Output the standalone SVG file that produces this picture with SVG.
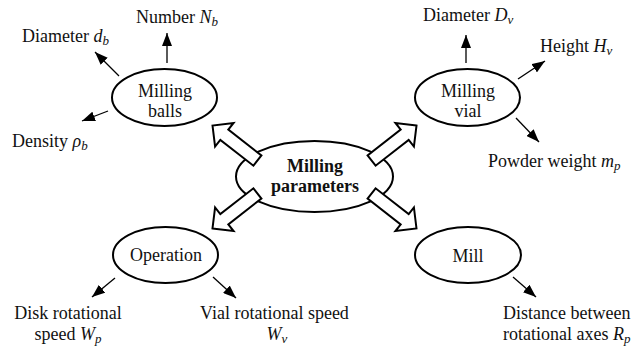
<svg xmlns="http://www.w3.org/2000/svg" width="633" height="350" viewBox="0 0 633 350">
<style>
text { font-family: 'Liberation Serif', 'Times New Roman', serif; font-size: 18px; fill: #111; }
.c { text-anchor: middle; }
.b { font-weight: bold; }
.i { font-style: italic; }
.s { font-style: italic; font-size: 13px; }
.node { fill: #fff; stroke: #000; stroke-width: 2; }
.thin { stroke: #000; stroke-width: 1.3; fill: none; marker-end: url(#ah); }
.block { fill: #fff; stroke: #000; stroke-width: 2; stroke-linejoin: miter; }
</style>
<defs>
<marker id="ah" viewBox="0 0 13 10" refX="13" refY="5" markerWidth="13" markerHeight="10" markerUnits="userSpaceOnUse" orient="auto">
<path d="M0,0 L13,5 L0,10 Z" fill="#000"/>
</marker>
<path id="blk" d="M0,0 L-15,-15 L-15,-6.5 L-57,-6.5 L-57,6.5 L-15,6.5 L-15,15 Z"/>
</defs>
<rect width="633" height="350" fill="#fff"/>

<g id="center">
<ellipse class="node" cx="314.5" cy="176.5" rx="78.5" ry="35.5"/>
<text class="c b" x="315" y="172">Milling</text>
<text class="c b" x="315" y="192">parameters</text>
</g>

<g id="connectors">
<use href="#blk" class="block" transform="translate(212.5,125.5) rotate(218)"/>
<use href="#blk" class="block" transform="translate(416.5,125.5) rotate(-38)"/>
<use href="#blk" class="block" transform="translate(212.5,228.5) rotate(142)"/>
<use href="#blk" class="block" transform="translate(416.5,228.5) rotate(38)"/>
<line class="thin" x1="167" y1="63" x2="167" y2="33"/>
<line class="thin" x1="119" y1="76" x2="95" y2="52"/>
<line class="thin" x1="108" y1="111" x2="82" y2="121"/>
<line class="thin" x1="466" y1="63" x2="466" y2="35"/>
<line class="thin" x1="518" y1="79" x2="545" y2="61"/>
<line class="thin" x1="516" y1="118" x2="539" y2="142"/>
<line class="thin" x1="115" y1="278" x2="92" y2="297"/>
<line class="thin" x1="213" y1="277" x2="236" y2="298"/>
<line class="thin" x1="513" y1="277" x2="536" y2="297"/>
</g>

<g id="balls">
<ellipse class="node" cx="164.5" cy="97.5" rx="52.5" ry="28.5"/>
<text class="c" x="165" y="97">Milling</text>
<text class="c" x="165" y="117">balls</text>
</g>

<g id="vial">
<ellipse class="node" cx="467.5" cy="97.5" rx="52.5" ry="28.5"/>
<text class="c" x="468" y="97">Milling</text>
<text class="c" x="468" y="117">vial</text>
</g>

<g id="operation">
<ellipse class="node" cx="165.5" cy="255" rx="52.5" ry="28"/>
<text class="c" x="166" y="261">Operation</text>
</g>

<g id="mill">
<ellipse class="node" cx="468" cy="255" rx="53" ry="28"/>
<text class="c" x="468" y="262">Mill</text>
</g>

<g id="labels">
<text x="136" y="23">Number <tspan class="i">N</tspan><tspan class="s" dy="3">b</tspan></text>
<text x="22" y="42">Diameter <tspan class="i">d</tspan><tspan class="s" dy="3">b</tspan></text>
<text x="12" y="147">Density <tspan class="i">ρ</tspan><tspan class="s" dy="3">b</tspan></text>
<text x="423" y="21">Diameter <tspan class="i">D</tspan><tspan class="s" dy="3">v</tspan></text>
<text x="540" y="52">Height <tspan class="i">H</tspan><tspan class="s" dy="3">v</tspan></text>
<text x="488" y="167">Powder weight <tspan class="i">m</tspan><tspan class="s" dy="3">p</tspan></text>
<text class="c" x="68" y="319">Disk rotational</text>
<text class="c" x="68" y="340">speed <tspan class="i">W</tspan><tspan class="s" dy="3">p</tspan></text>
<text x="200" y="319">Vial rotational speed</text>
<text class="c" x="277" y="340"><tspan class="i">W</tspan><tspan class="s" dy="3">v</tspan></text>
<text x="503" y="319">Distance between</text>
<text x="503" y="340">rotational axes <tspan class="i">R</tspan><tspan class="s" dy="3">p</tspan></text>
</g>
</svg>
